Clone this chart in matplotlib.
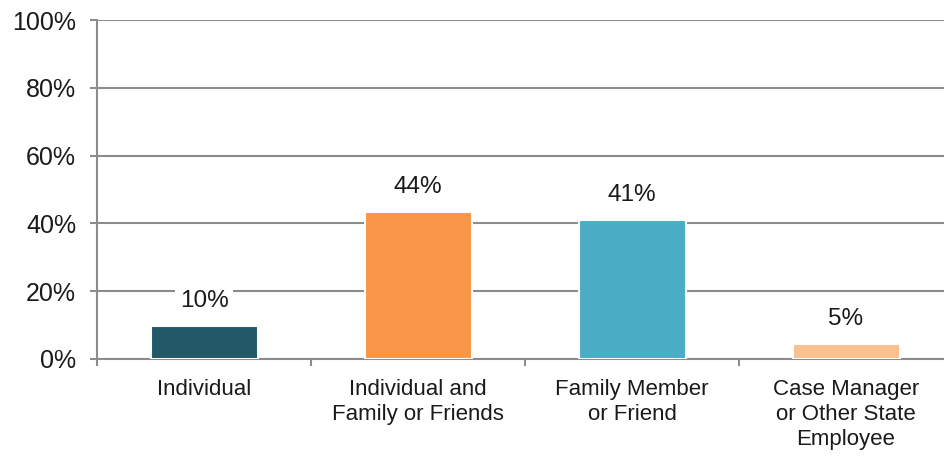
import matplotlib
matplotlib.use("Agg")
import matplotlib.pyplot as plt
import numpy as np

categories = ["Individual", "Individual and\nFamily or Friends", "Family Member\nor Friend",
              "Case Manager\nor Other State\nEmployee"]
values = [9.7, 43.4, 41.0, 4.5]
labels = ["10%", "44%", "41%", "5%"]
colors = ["#215968", "#F79646", "#4BACC6", "#FAC090"]
yticks = [0, 20, 40, 60, 80, 100]

plt.rcParams['font.family'] = ['Liberation Sans', 'DejaVu Sans']

fig = plt.figure(figsize=(9.44, 4.57), dpi=100)
ax = fig.add_axes([97/944, 1-359/457, 856/944, (359-20)/457])

x = np.arange(len(categories))
ax.bar(x, values, width=0.5, color=colors, edgecolor="white", linewidth=1.5, zorder=3)
for xi, v, lab in zip(x, values, labels):
    ax.annotate(lab, (xi, v), xytext=(0, 13.5), textcoords="offset points",
                ha="center", va="baseline", fontsize=17.5, color="#1a1a1a",
                bbox=dict(facecolor="white", edgecolor="none", pad=3), zorder=4)

ax.set_xlim(-0.5, len(categories) - 0.5)
ax.set_ylim(0, 100)
ax.set_yticks(yticks)
ax.set_yticklabels([f"{t}%" for t in yticks], fontsize=18, color="#1a1a1a")
ax.yaxis.grid(True, color="#8c8c8c", linewidth=1.5, zorder=0)
ax.set_axisbelow(True)

ax.set_xticks(x)
ax.set_xticklabels(categories, fontsize=16, color="#1a1a1a", linespacing=1.25)
ax.tick_params(axis="x", length=0, pad=14.5)
ax.set_xticks(np.arange(len(categories) + 1) - 0.5, minor=True)
ax.tick_params(axis="x", which="minor", length=5, width=1.5, color="#8c8c8c", direction="out")
ax.tick_params(axis="y", length=5, width=1.5, color="#8c8c8c", pad=10)

for s in ["top", "right"]:
    ax.spines[s].set_visible(False)
for s in ["left", "bottom"]:
    ax.spines[s].set_color("#8c8c8c")
    ax.spines[s].set_linewidth(1.5)

fig.savefig("out.png", dpi=100)
